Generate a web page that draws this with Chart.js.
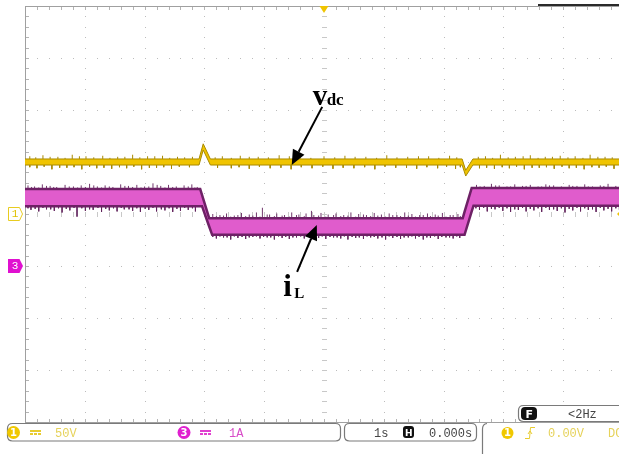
<!DOCTYPE html>
<html><head><meta charset="utf-8">
<script src="https://cdn.jsdelivr.net/npm/chart.js@4.4.1/dist/chart.umd.min.js"></script>
<style>
html,body{margin:0;padding:0;background:#fff;overflow:hidden;width:619px;height:454px}
#wrap{position:absolute;left:0;top:0;width:624px;height:454px}
canvas{display:block}
</style></head><body>
<div id="wrap"><canvas id="c" width="624" height="454"></canvas></div>
<script>
// Time base: 1 s/div, trigger at t = 0 (screen centre)
// CH1: DC-link voltage, 50 V/div
const vdcTime  = [-5, -2.09, -2.02, -1.90, 2.31, 2.37, 2.49, 5];
const vdcUpper = [52.9, 52.9, 67.5, 52.9, 52.9, 42.0, 52.9, 52.9];
const vdcLower = [47.1, 47.1, 61.5, 47.1, 47.1, 36.5, 47.1, 47.1];
// CH3: inductor current, 1 A/div
const iLTime  = [-5, -2.07, -2.04, -1.92, -1.87, 2.32, 2.35, 2.47, 2.50, 5];
const iLUpper = [1.48, 1.48, 1.37, 0.92, 0.92, 0.92, 1.04, 1.50, 1.50, 1.50];
const iLLower = [1.15, 1.15, 1.15, 0.76, 0.60, 0.60, 0.60, 1.05, 1.16, 1.16];
// noise spikes on the current trace (time, tip value)
const iLSpikeUpT = [-4.95,-4.84,-4.71,-4.58,-4.47,-4.33,-4.19,-4.06,-3.92,-3.79,-3.66,-3.53,-3.40,-3.27,-3.13,-3.00,-2.86,-2.73,-2.60,-2.47,-2.34,-2.21,-2.12,
  -1.86,-1.74,-1.63,-1.50,-1.38,-1.25,-1.13,-1.03,-0.91,-0.79,-0.66,-0.54,-0.42,-0.30,-0.17,-0.05,0.07,0.20,0.33,0.45,0.58,0.71,0.84,0.96,1.09,1.22,1.35,1.47,1.60,1.73,1.86,1.98,2.11,2.24,
  2.55,2.68,2.80,2.93,3.06,3.19,3.32,3.45,3.58,3.71,3.84,3.97,4.10,4.23,4.36,4.49,4.62,4.75,4.88,
  -4.89,-4.77,-4.64,-4.52,-4.40,-4.26,-4.12,-3.99,-3.85,-3.72,-3.59,-3.46,-3.33,-3.20,-3.06,-2.93,-2.79,-2.66,-2.53,-2.40,-2.27,-2.16,
  -1.80,-1.68,-1.56,-1.44,-1.31,-1.19,-1.07,-0.95,-0.83,-0.70,-0.58,-0.46,-0.33,-0.21,-0.09,0.03,0.16,0.28,0.40,0.53,0.66,0.78,0.90,1.03,1.15,1.28,1.41,1.53,1.66,1.78,1.91,2.04,2.16,2.28,
  2.61,2.74,2.87,3.00,3.12,3.25,3.38,3.51,3.64,3.77,3.90,4.03,4.16,4.29,4.42,4.55,4.68,4.81,4.94];
const iLSpikeUp = [1.55,1.53,1.57,1.54,1.52,1.56,1.53,1.55,1.58,1.53,1.55,1.52,1.57,1.54,1.56,1.53,1.59,1.54,1.56,1.53,1.55,1.57,1.52,
  1.00,0.98,1.01,0.97,1.02,0.99,1.03,1.12,0.99,1.01,0.98,1.03,0.99,1.01,0.98,1.02,0.99,1.01,0.98,1.03,1.00,0.98,1.02,0.99,1.01,0.98,1.03,1.00,0.98,1.01,0.99,1.02,0.98,1.00,
  1.56,1.54,1.58,1.55,1.53,1.57,1.54,1.56,1.53,1.57,1.55,1.53,1.56,1.54,1.57,1.53,1.55,1.58,1.54,
  1.52,1.51,1.54,1.52,1.50,1.53,1.51,1.52,1.55,1.51,1.53,1.50,1.54,1.52,1.51,1.53,1.56,1.51,1.52,1.50,1.53,1.51,
  0.96,0.97,0.95,0.98,0.96,0.97,0.95,0.99,0.96,0.97,0.95,0.98,0.96,1.06,0.97,0.95,0.98,0.96,0.97,0.95,0.99,0.96,0.97,0.95,0.98,0.96,0.97,0.95,0.98,0.96,0.97,0.95,0.98,0.96,
  1.53,1.52,1.55,1.51,1.53,1.52,1.54,1.51,1.53,1.55,1.52,1.51,1.54,1.52,1.53,1.51,1.54,1.52,1.53];
const iLSpikeDnT = [-4.90,-4.77,-4.64,-4.51,-4.38,-4.25,-4.13,-3.99,-3.86,-3.72,-3.59,-3.46,-3.34,-3.20,-3.07,-2.93,-2.80,-2.66,-2.53,-2.40,-2.27,-2.15,
  -1.80,-1.68,-1.56,-1.44,-1.31,-1.19,-1.07,-0.95,-0.83,-0.70,-0.58,-0.46,-0.33,-0.21,-0.09,0.03,0.16,0.28,0.40,0.53,0.66,0.78,0.90,1.03,1.15,1.28,1.41,1.53,1.66,1.78,1.91,2.04,2.16,2.27,
  2.60,2.73,2.86,2.99,3.12,3.25,3.38,3.51,3.64,3.77,3.90,4.03,4.16,4.29,4.42,4.55,4.68,4.81,4.94,
  -4.95,-4.83,-4.70,-4.57,-4.44,-4.31,-4.18,-4.05,-3.92,-3.78,-3.65,-3.52,-3.39,-3.26,-3.13,-2.99,-2.86,-2.72,-2.59,-2.46,-2.33,-2.20,
  -1.86,-1.74,-1.62,-1.50,-1.37,-1.25,-1.13,-1.01,-0.89,-0.76,-0.64,-0.52,-0.39,-0.27,-0.15,-0.03,0.10,0.22,0.34,0.47,0.59,0.72,0.84,0.97,1.09,1.22,1.34,1.47,1.59,1.72,1.85,1.97,2.10,2.22,
  2.54,2.67,2.80,2.93,3.06,3.19,3.32,3.45,3.58,3.71,3.84,3.97,4.10,4.23,4.36,4.49,4.62,4.75,4.88];
const iLSpikeDn = [1.08,1.05,1.09,1.06,1.03,1.07,0.95,1.06,1.08,1.04,1.07,1.05,1.09,1.06,1.04,1.08,1.05,1.07,1.04,1.06,1.08,1.05,
  0.53,0.55,0.51,0.54,0.52,0.56,0.53,0.55,0.51,0.54,0.52,0.55,0.53,0.51,0.54,0.52,0.55,0.53,0.51,0.54,0.52,0.55,0.53,0.51,0.54,0.52,0.55,0.53,0.51,0.54,0.52,0.55,0.53,0.54,
  1.08,1.05,1.09,1.06,1.04,1.08,1.05,1.07,1.04,1.08,1.06,1.03,1.07,1.05,1.08,1.04,1.07,1.05,1.08,
  1.11,1.10,1.12,1.09,1.11,1.10,1.12,1.11,1.09,1.12,1.10,1.11,1.12,1.09,1.11,1.10,1.12,1.09,1.11,1.10,1.12,1.11,
  0.56,0.57,0.55,0.57,0.56,0.55,0.57,0.56,0.55,0.57,0.56,0.55,0.57,0.56,0.55,0.57,0.56,0.55,0.57,0.56,0.55,0.57,0.56,0.55,0.57,0.56,0.55,0.57,0.56,0.55,0.57,0.56,0.55,0.57,
  1.11,1.12,1.10,1.12,1.11,1.09,1.12,1.10,1.11,1.12,1.09,1.11,1.10,1.12,1.11,1.09,1.12,1.10,1.11];
// noise spikes on the voltage trace (time, tip value)
const vdcSpikeUpT = [-4.92,-4.70,-4.45,-4.21,-3.98,-3.70,-3.45,-3.20,-2.95,-2.70,-2.45,-1.70,-1.40,-1.10,-0.75,-0.40,0.00,0.35,0.70,1.05,1.40,1.75,2.10,2.70,2.95,3.20,3.45,3.70,3.95,4.20,4.45,4.70,4.95,
  -4.82,-4.58,-4.33,-4.09,-3.85,-3.58,-3.33,-3.08,-2.83,-2.58,-2.33,-2.20,-1.82,-1.55,-1.25,-0.93,-0.58,-0.22,0.18,0.52,0.88,1.22,1.58,1.92,2.22,2.58,2.82,3.08,3.33,3.58,3.82,4.08,4.33,4.58,4.82];
const vdcSpikeUp  = [55.5,56.5,55,57,55.5,56,55,57,55.5,56,55,55.5,56,55,56.5,55,55.5,56,55,56.5,55,55.5,56,55.5,57,55,56.5,55,56,55.5,57,55,56,
  54.5,55,54,55.5,54.5,54,55,54.5,55.5,54,54.5,55,54.5,54,55,54.5,55.5,54,54.5,55,54,54.5,55.5,54,54.5,55,54,54.5,55.5,54,55,54.5,54,55,54.5];
const vdcSpikeDnT = [-4.80,-4.55,-4.30,-4.05,-3.80,-3.55,-3.30,-3.05,-2.80,-2.55,-1.55,-1.25,-0.90,-0.55,-0.20,0.15,0.50,0.85,1.20,1.55,1.90,2.20,2.60,2.85,3.10,3.35,3.60,3.85,4.10,4.35,4.60,4.85,
  -4.92,-4.68,-4.42,-4.18,-3.92,-3.68,-3.42,-3.18,-2.92,-2.68,-2.42,-2.25,-1.78,-1.42,-1.08,-0.72,-0.38,-0.02,0.32,0.68,1.02,1.38,1.72,2.05,2.28,2.72,2.98,3.22,3.48,3.72,3.98,4.22,4.48,4.72,4.96];
const vdcSpikeDn  = [44,43,44.5,43,44,43.5,44,43,44.5,43.5,44,43.5,44,43,44,43.5,44,43,44.5,43.5,44,43.5,44,43.5,44,43,44.5,43.5,44,43,44.5,43.5,
  45,45.5,44.5,45,45.5,44.5,45,45.5,44.5,45,45.5,45,44.5,45,45.5,44.5,45,45.5,44.5,45,45.5,44.5,45,45.5,45,44.5,45,45.5,44.5,45,45.5,44.5,45,45.5,44.5];

function interp(ts, vs, t) {
  for (let i = 1; i < ts.length; i++) {
    if (t <= ts[i]) { const f = (t - ts[i-1]) / (ts[i] - ts[i-1]); return vs[i-1] + f * (vs[i] - vs[i-1]); }
  }
  return vs[vs.length - 1];
}
const pts = (ts, vs) => ts.map((t, i) => ({x: t, y: vs[i]}));
// vertical segments from the band edge out to each spike tip, separated by gaps
function spikes(upT, up, dnT, dn, bandT, bandUp, bandLo) {
  const out = [];
  upT.forEach((t, i) => { out.push({x: t, y: interp(bandT, bandUp, t)}, {x: t, y: up[i]}, {x: t, y: null}); });
  dnT.forEach((t, i) => { out.push({x: t, y: interp(bandT, bandLo, t)}, {x: t, y: dn[i]}, {x: t, y: null}); });
  return out;
}

const CH1 = '#f0c400', CH1_EDGE = '#a88a00';
const CH3 = '#e05ccc', CH3_EDGE = '#6e2166';

const gridPlugin = {
  id: 'scopeGrid',
  beforeDraw(chart) {
    const {ctx, chartArea: a} = chart;
    const dx = (a.right - a.left) / 10, dy = (a.bottom - a.top) / 8;
    const cx = Math.round(a.left + 5 * dx), cy = Math.round(a.top + 4 * dy);
    ctx.save();
    ctx.fillStyle = '#bcbcbc';
    for (let i = 1; i < 10; i++) {
      const x = Math.round(a.left + i * dx);
      for (let k = 1; k < 40; k++) ctx.fillRect(x, Math.round(a.top + k * dy / 5), 1, 1);
    }
    for (let j = 1; j < 8; j++) {
      const y = Math.round(a.top + j * dy);
      for (let k = 1; k < 50; k++) ctx.fillRect(Math.round(a.left + k * dx / 5), y, 1, 1);
    }
    ctx.fillStyle = '#c8c8c8';
    for (let k = 1; k < 40; k++) ctx.fillRect(cx - 2, Math.round(a.top + k * dy / 5), 5, 1);
    for (let k = 1; k < 50; k++) ctx.fillRect(Math.round(a.left + k * dx / 5), cy - 2, 1, 5);
    // frame with minor ticks
    ctx.fillStyle = '#a0a0a0';
    ctx.fillRect(a.left, a.top, a.right - a.left, 1);
    ctx.fillRect(a.left, a.bottom, a.right - a.left, 1);
    ctx.fillRect(a.left, a.top, 1, a.bottom - a.top);
    ctx.fillStyle = '#b4b4b4';
    for (let k = 1; k < 50; k++) {
      const x = Math.round(a.left + k * dx / 5);
      ctx.fillRect(x, a.top + 1, 1, 3);
      ctx.fillRect(x, a.bottom - 3, 1, 3);
    }
    for (let k = 1; k < 40; k++) ctx.fillRect(a.left + 1, Math.round(a.top + k * dy / 5), 3, 1);
    // dark status strip at the top right
    ctx.fillStyle = '#2a2a2a';
    ctx.fillRect(538, a.top - 2, 90, 2);
    ctx.restore();
  }
};

function rrect(ctx, x, y, w, h, r) {
  ctx.beginPath();
  ctx.moveTo(x + r, y); ctx.lineTo(x + w - r, y); ctx.quadraticCurveTo(x + w, y, x + w, y + r);
  ctx.lineTo(x + w, y + h - r); ctx.quadraticCurveTo(x + w, y + h, x + w - r, y + h);
  ctx.lineTo(x + r, y + h); ctx.quadraticCurveTo(x, y + h, x, y + h - r);
  ctx.lineTo(x, y + r); ctx.quadraticCurveTo(x, y, x + r, y); ctx.closePath();
}
function arrow(ctx, x0, y0, x1, y1) {
  const ang = Math.atan2(y1 - y0, x1 - x0), L = 15, W = 6.5;
  const bx = x1 - L * Math.cos(ang), by = y1 - L * Math.sin(ang);
  ctx.beginPath(); ctx.moveTo(x0, y0); ctx.lineTo(bx, by); ctx.lineWidth = 2; ctx.strokeStyle = '#000'; ctx.stroke();
  ctx.beginPath(); ctx.moveTo(x1, y1);
  ctx.lineTo(bx + W * Math.sin(ang), by - W * Math.cos(ang));
  ctx.lineTo(bx - W * Math.sin(ang), by + W * Math.cos(ang));
  ctx.closePath(); ctx.fillStyle = '#000'; ctx.fill();
}
function chanBadge(ctx, x, y, r, fill, txt) {
  ctx.beginPath(); ctx.arc(x, y, r, 0, Math.PI * 2); ctx.fillStyle = fill; ctx.fill();
  ctx.fillStyle = '#fff'; ctx.font = 'bold 10px "DejaVu Sans"'; ctx.textAlign = 'center'; ctx.textBaseline = 'middle';
  ctx.fillText(txt, x, y + 0.5);
  ctx.textAlign = 'left'; ctx.textBaseline = 'alphabetic';
}
function dcSymbol(ctx, x, y, col) {
  ctx.fillStyle = col;
  ctx.fillRect(x, y - 2, 11, 2);
  for (let i = 0; i < 3; i++) ctx.fillRect(x + i * 4, y + 1, 3, 2);
}

const overlayPlugin = {
  id: 'scopeOverlay',
  afterDraw(chart) {
    const {ctx, scales} = chart;
    const X = scales.x, V = scales.y1, I = scales.y3;
    ctx.save();
    // trigger position marker
    const tx = X.getPixelForValue(0), top = chart.chartArea.top;
    ctx.beginPath(); ctx.moveTo(tx - 4.5, top); ctx.lineTo(tx + 4.5, top); ctx.lineTo(tx, top + 7); ctx.closePath();
    ctx.fillStyle = CH1; ctx.fill();
    // channel ground markers
    const g1 = V.getPixelForValue(0), g3 = I.getPixelForValue(0);
    ctx.beginPath(); ctx.moveTo(8.5, g1 - 6.5); ctx.lineTo(19.5, g1 - 6.5); ctx.lineTo(22.5, g1); ctx.lineTo(19.5, g1 + 6.5); ctx.lineTo(8.5, g1 + 6.5); ctx.closePath();
    ctx.fillStyle = '#fff'; ctx.fill(); ctx.strokeStyle = '#e8cc20'; ctx.lineWidth = 1; ctx.stroke();
    ctx.fillStyle = '#e0c000'; ctx.font = '11px "Liberation Mono"'; ctx.textAlign = 'center'; ctx.textBaseline = 'middle';
    ctx.fillText('1', 15, g1 + 0.5);
    ctx.beginPath(); ctx.moveTo(8, g3 - 7); ctx.lineTo(19.5, g3 - 7); ctx.lineTo(23, g3); ctx.lineTo(19.5, g3 + 7); ctx.lineTo(8, g3 + 7); ctx.closePath();
    ctx.fillStyle = '#e010d0'; ctx.fill();
    ctx.fillStyle = '#fff'; ctx.fillText('3', 15, g3 + 0.5);
    // trigger level marker (right edge)
    ctx.beginPath(); ctx.moveTo(617, g1); ctx.lineTo(621, g1 - 4); ctx.lineTo(621, g1 + 4); ctx.closePath();
    ctx.fillStyle = CH1; ctx.fill();
    ctx.textAlign = 'left'; ctx.textBaseline = 'alphabetic';

    // trace labels with arrows
    ctx.fillStyle = '#000';
    ctx.font = 'bold 29px "Liberation Serif"';
    const vLx = X.getPixelForValue(-0.19), vLy = V.getPixelForValue(104.8);
    ctx.fillText('v', vLx, vLy);
    ctx.font = 'bold 17px "Liberation Serif"';
    ctx.fillText('dc', vLx + 14, vLy);
    arrow(ctx, X.getPixelForValue(-0.03), V.getPixelForValue(103), X.getPixelForValue(-0.54), V.getPixelForValue(47));
    ctx.font = 'bold 31px "Liberation Serif"';
    const iLx = X.getPixelForValue(-0.68), iLy = I.getPixelForValue(-0.577);
    ctx.fillText('i', iLx, iLy);
    ctx.font = 'bold 15px "Liberation Serif"';
    ctx.fillText('L', iLx + 11, iLy + 2);
    arrow(ctx, X.getPixelForValue(-0.45), I.getPixelForValue(-0.115), X.getPixelForValue(-0.12), I.getPixelForValue(0.79));

    // status bar
    ctx.lineWidth = 1.2; ctx.strokeStyle = '#7a7a7a';
    rrect(ctx, 7.5, 423.5, 333, 17.5, 5); ctx.stroke();
    rrect(ctx, 344.5, 423.5, 132, 17.5, 5); ctx.stroke();
    ctx.beginPath(); ctx.moveTo(487, 423.5); ctx.quadraticCurveTo(482.5, 424, 482.5, 429); ctx.lineTo(482.5, 454); ctx.stroke();
    ctx.fillStyle = '#fff'; rrect(ctx, 518.5, 405.5, 112, 16, 5); ctx.fill(); ctx.stroke();
    ctx.fillStyle = '#111'; rrect(ctx, 521, 407, 16, 13, 4); ctx.fill();
    ctx.fillStyle = '#fff'; ctx.font = 'bold 11px "DejaVu Sans"'; ctx.fillText('F', 525.5, 418);
    ctx.fillStyle = '#111'; rrect(ctx, 403, 426, 11, 12, 3); ctx.fill();
    ctx.fillStyle = '#fff'; ctx.font = 'bold 9px "DejaVu Sans"'; ctx.fillText('H', 405, 435.5);

    chanBadge(ctx, 13.5, 432.5, 6.5, '#f0c800', '1');
    dcSymbol(ctx, 30, 432, '#e8cc30');
    chanBadge(ctx, 184, 432.5, 6.5, '#e020d0', '3');
    dcSymbol(ctx, 200, 432, '#e040d0');
    chanBadge(ctx, 507.5, 433, 6, '#f0c800', '1');
    // rising edge trigger symbol
    ctx.strokeStyle = '#e8cc30'; ctx.lineWidth = 1;
    ctx.beginPath(); ctx.moveTo(525, 438.5); ctx.lineTo(529.5, 438.5); ctx.lineTo(530.5, 427.5); ctx.lineTo(535, 427.5); ctx.stroke();
    ctx.beginPath(); ctx.moveTo(528, 434); ctx.lineTo(530, 431); ctx.lineTo(532, 434); ctx.stroke();

    ctx.font = '12px "Liberation Mono"';
    ctx.fillStyle = '#e6d25a'; ctx.fillText('50V', 55, 437);
    ctx.fillStyle = '#d84cc8'; ctx.fillText('1A', 229, 437);
    ctx.fillStyle = '#444'; ctx.fillText('1s', 374, 437); ctx.fillText('0.000s', 429, 437);
    ctx.fillStyle = '#e6d25a'; ctx.fillText('0.00V', 548, 437); ctx.fillText('DC', 608, 437);
    ctx.fillStyle = '#444'; ctx.fillText('<2Hz', 568, 418);
    ctx.restore();
  }
};

new Chart(document.getElementById('c'), {
  type: 'line',
  data: {
    datasets: [
      {data: pts(vdcTime, vdcUpper), yAxisID: 'y1', borderColor: CH1_EDGE, borderWidth: 1, backgroundColor: CH1, fill: '+1', order: 0},
      {data: pts(vdcTime, vdcLower), yAxisID: 'y1', borderColor: CH1_EDGE, borderWidth: 1, fill: false, order: 1},
      {data: pts(iLTime, iLUpper), yAxisID: 'y3', borderColor: CH3_EDGE, borderWidth: 2.5, backgroundColor: CH3, fill: '+1', order: 2},
      {data: pts(iLTime, iLLower), yAxisID: 'y3', borderColor: CH3_EDGE, borderWidth: 2.5, fill: false, order: 3},
      {data: spikes(vdcSpikeUpT, vdcSpikeUp, vdcSpikeDnT, vdcSpikeDn, vdcTime, vdcUpper, vdcLower), yAxisID: 'y1', borderColor: CH1_EDGE, borderWidth: 1, fill: false, spanGaps: false, order: 4},
      {data: spikes(iLSpikeUpT, iLSpikeUp, iLSpikeDnT, iLSpikeDn, iLTime, iLUpper, iLLower), yAxisID: 'y3', borderColor: 'rgba(98,34,92,0.9)', borderWidth: 1, fill: false, spanGaps: false, order: 5}
    ]
  },
  options: {
    responsive: false, animation: false, devicePixelRatio: 1,
    layout: {padding: {left: 25, top: 6, right: 1, bottom: 32}},
    elements: {point: {radius: 0, hoverRadius: 0}, line: {tension: 0}},
    scales: {
      x: {type: 'linear', min: -5, max: 5, display: false},
      y1: {type: 'linear', min: -200, max: 200, display: false},
      y3: {type: 'linear', min: -3, max: 5, display: false}
    },
    plugins: {legend: {display: false}, tooltip: {enabled: false}, filler: {drawTime: 'beforeDatasetsDraw'}},
    events: []
  },
  plugins: [gridPlugin, overlayPlugin]
});
</script>
</body></html>
